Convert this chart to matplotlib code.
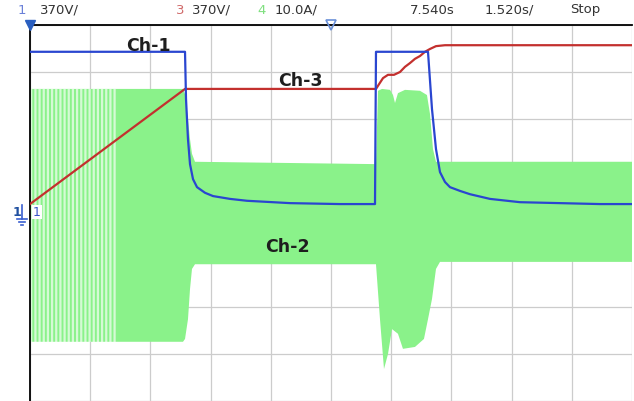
import matplotlib
matplotlib.use("Agg")
import matplotlib.pyplot as plt
from matplotlib.lines import Line2D
import numpy as np

# scope settings
sec_per_div = 1.52
n_xdiv = 10
n_ydiv = 8

# Ch-1 (blue), time in s, level in divisions
ch1_t = [0.0, 3.914, 3.939, 3.989, 4.040, 4.116, 4.217, 4.419, 4.621, 5.050, 5.479,
         6.565, 7.827, 8.711, 8.736, 10.049, 10.150, 10.251, 10.352, 10.478, 10.604,
         10.857, 11.109, 11.614, 12.372, 13.382, 14.392, 15.2]
ch1_div = [3.43, 3.43, 2.43, 1.57, 1.04, 0.72, 0.55, 0.43, 0.36, 0.30, 0.26,
           0.21, 0.19, 0.19, 3.43, 3.43, 2.21, 1.36, 0.87, 0.66, 0.55,
           0.47, 0.40, 0.30, 0.23, 0.21, 0.19, 0.19]

# Ch-3 (red)
ch3_t = [0.0, 3.914, 8.736, 8.812, 8.913, 9.039, 9.190, 9.342, 9.468, 9.594,
         9.720, 9.847, 9.973, 10.099, 10.251, 10.478, 15.2]
ch3_div = [0.19, 2.64, 2.64, 2.74, 2.87, 2.94, 2.94, 3.00, 3.11, 3.19,
           3.28, 3.34, 3.43, 3.49, 3.55, 3.57, 3.57]

# Ch-2 (green) current envelope: upper and lower peaks
green_top_t = [0.0, 3.863, 3.914, 3.989, 4.040, 4.090, 4.166, 8.736, 8.787, 8.888,
               9.090, 9.166, 9.216, 9.291, 9.468, 9.847, 10.023, 10.099, 10.175, 10.251, 15.2]
green_top = [2.64, 2.64, 2.53, 2.00, 1.57, 1.26, 1.09, 1.04, 2.60, 2.64,
             2.62, 2.51, 2.34, 2.55, 2.62, 2.60, 2.51, 2.11, 1.36, 1.09, 1.09]
green_bot_t = [0.0, 3.863, 3.914, 3.989, 4.040, 4.090, 4.166, 8.736, 8.837, 8.938,
               9.039, 9.140, 9.291, 9.417, 9.720, 9.947, 10.049, 10.150, 10.251, 10.352, 15.2]
green_bot = [-2.74, -2.74, -2.68, -2.26, -1.62, -1.19, -1.09, -1.09, -2.26, -3.32,
             -3.00, -2.47, -2.57, -2.89, -2.85, -2.68, -2.26, -1.83, -1.19, -1.04, -1.04]

header_left = [("1", "#6a80d8", 18), ("370V/", "#333333", 40), ("3", "#d06a6a", 176),
               ("370V/", "#333333", 192), ("4", "#7fe07f", 257), ("10.0A/", "#333333", 275),
               ("7.540s", "#333333", 410), ("1.520s/", "#333333", 485), ("Stop", "#333333", 570)]

W, H = 634, 402
plt.rcParams["hatch.linewidth"] = 1.6
fig = plt.figure(figsize=(W / 100, H / 100), dpi=100)
fig.patch.set_facecolor("white")
ax = fig.add_axes([30 / W, 0, 602 / W, 376 / H])

t_max = sec_per_div * n_xdiv
ax.set_xlim(0, t_max)
ax.set_ylim(-n_ydiv / 2, n_ydiv / 2)
ax.set_xticks(np.arange(0, n_xdiv + 1) * sec_per_div)
ax.set_yticks(np.arange(-n_ydiv / 2, n_ydiv / 2 + 1))
ax.grid(True, color="#cccccc", lw=0.9)
ax.tick_params(length=0, labelbottom=False, labelleft=False)
for s in ["right", "bottom"]:
    ax.spines[s].set_visible(False)
ax.spines["left"].set_linewidth(1.3)
ax.spines["top"].set_linewidth(1.3)
ax.set_axisbelow(True)

# green current band
poly_t = np.r_[green_top_t, green_bot_t[::-1]]
poly_y = np.r_[green_top, green_bot[::-1]]
ax.fill(poly_t, poly_y, color="#8af28a", lw=0, zorder=2)
# sparse cycles on the far left show white gaps
ax.fill_between([0, 2.2], green_top[0], green_bot[0], facecolor="none",
                edgecolor=(1, 1, 1, 0.65), hatch="||||", lw=0, zorder=2.5)

ax.plot(ch3_t, ch3_div, color="#c3302e", lw=1.6, zorder=3)
ax.plot(ch1_t, ch1_div, color="#2a46d0", lw=1.6, zorder=4)

lab = dict(fontsize=12.5, fontweight="bold", color="#1e1e1e", ha="center", va="center", zorder=6)
ax.text(118 / 602 * t_max, (214 - 46) / 47, "Ch-1", **lab)
ax.text(270 / 602 * t_max, (214 - 81) / 47, "Ch-3", **lab)
ax.text(257 / 602 * t_max, (214 - 247) / 47, "Ch-2", **lab)

# trigger / position markers
ax.plot([0], [4], marker="v", ms=7, color="#2a5fc0", clip_on=False, zorder=7)
ax.plot([t_max / 2], [4], marker="v", ms=7, mfc="none", mec="#6a90d8", mew=1.2,
        clip_on=False, zorder=7)

# channel 1 ground marker
fig.text(13 / W, 1 - 213 / H, "1", color="#2050a0", fontsize=9, fontweight="bold",
         ha="left", va="center")
gx, gy = 22, 214
gnd = [((gx, gx), (gy - 8, gy + 6)), ((gx - 5, gx + 5), (gy + 6, gy + 6)),
       ((gx - 3, gx + 3), (gy + 9, gy + 9)), ((gx - 1, gx + 1), (gy + 12, gy + 12))]
for xs, ys in gnd:
    fig.add_artist(Line2D([x / W for x in xs], [1 - y / H for y in ys],
                          color="#3a5fd0", lw=1.2, transform=fig.transFigure))
fig.text(33 / W, 1 - 213 / H, "1", color="#3a55c8", fontsize=9, ha="left", va="center",
         bbox=dict(boxstyle="square,pad=0.05", fc="white", ec="none"))

for txt, col, x in header_left:
    fig.text(x / W, 1 - 10 / H, txt, color=col, fontsize=9.5, ha="left", va="center")

fig.savefig("out.png", dpi=100)
